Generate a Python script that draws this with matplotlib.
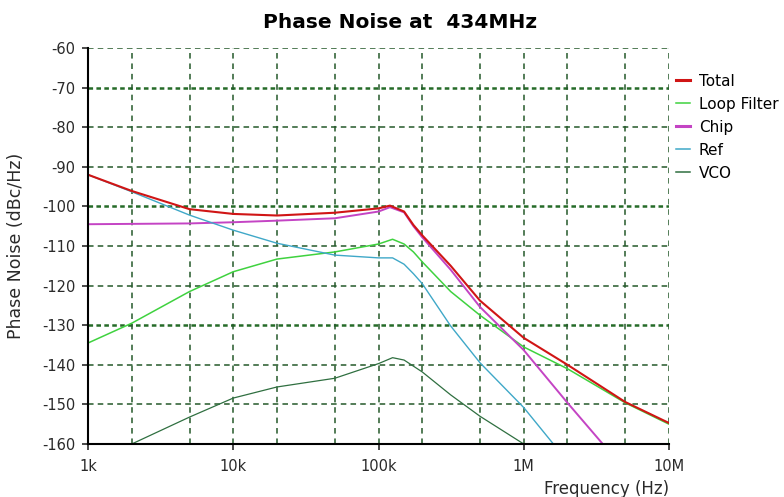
import numpy as np
import matplotlib
matplotlib.use("Agg")
import matplotlib.pyplot as plt
from matplotlib.ticker import LogLocator, FixedLocator, NullFormatter

plt.rcParams["font.family"] = "DejaVu Sans"
plt.rcParams["axes.unicode_minus"] = False
plt.rcParams["lines.scale_dashes"] = False

### data (Hz, dBc/Hz)
f_total = [1e3, 2e3, 5e3, 1e4, 2e4, 5e4, 1e5, 1.2e5, 1.5e5, 1.74e5, 2e5, 3.14e5, 5e5, 1e6, 2e6, 5e6, 1e7]
pn_total = [-92, -96.1, -100.7, -101.9, -102.3, -101.6, -100.5, -99.8, -101.3, -104.7, -107.3, -115, -123.8, -133.2, -140, -149.4, -154.7]

f_loop = [1e3, 2e3, 5e3, 1e4, 2e4, 5e4, 1e5, 1.25e5, 1.5e5, 1.74e5, 2e5, 3.14e5, 5e5, 1e6, 2e6, 5e6, 1e7]
pn_loop = [-134.5, -129.5, -121.5, -116.5, -113.3, -111.5, -109.5, -108.3, -109.5, -111.5, -114, -121.5, -127.5, -135.5, -141, -149.6, -155]

f_chip = [1e3, 5e3, 1e4, 2e4, 5e4, 1e5, 1.2e5, 1.5e5, 1.74e5, 2e5, 3.14e5, 5e5, 1e6, 2e6, 3.5e6]
pn_chip = [-104.5, -104.3, -104, -103.6, -103, -101.3, -100.2, -101.5, -105, -107.8, -116, -125.4, -136.3, -149.6, -160]

f_ref = [1e3, 2e3, 5e3, 1e4, 2e4, 5e4, 1e5, 1.25e5, 1.5e5, 1.74e5, 2e5, 3.14e5, 5e5, 1e6, 1.6e6]
pn_ref = [-92, -96.3, -102.2, -106, -109.3, -112.3, -113, -113, -114.6, -117, -119.5, -130.2, -139.5, -150.8, -160]

f_vco = [2e3, 5e3, 1e4, 2e4, 5e4, 1e5, 1.25e5, 1.5e5, 2e5, 3.14e5, 5e5, 1e6]
pn_vco = [-160, -153.2, -148.4, -145.6, -143.4, -139.7, -138.2, -138.8, -141.8, -147.6, -153, -160]

yticks = [-60, -70, -80, -90, -100, -110, -120, -130, -140, -150, -160]
heavy_rows = [-70, -100, -130]
xticks = [1e3, 1e4, 1e5, 1e6, 1e7]
xticklabels = ["1k", "10k", "100k", "1M", "10M"]

grid_col = "#24592a"

fig = plt.figure(figsize=(7.84, 4.97), dpi=100)
ax = fig.add_axes([88/784, 1-444/497, (669-88)/784, (444-48)/497])

ax.semilogx(f_total, pn_total, color="#d01515", lw=1.5, label="Total", zorder=5)
ax.semilogx(f_loop, pn_loop, color="#3fd23f", lw=1.1, label="Loop Filter", zorder=4)
ax.semilogx(f_chip, pn_chip, color="#c444c4", lw=1.4, label="Chip", zorder=4)
ax.semilogx(f_ref, pn_ref, color="#3fa8c8", lw=1.0, label="Ref", zorder=4)
ax.semilogx(f_vco, pn_vco, color="#2f6f40", lw=0.9, label="VCO", zorder=4)

ax.set_xlim(1e3, 1e7)
ax.set_ylim(-160, -60)
ax.set_yticks(yticks)
ax.xaxis.set_major_locator(FixedLocator(xticks))
ax.set_xticklabels(xticklabels)
ax.xaxis.set_minor_locator(LogLocator(base=10, subs=[2, 5], numticks=20))
ax.xaxis.set_minor_formatter(NullFormatter())

# grid
ax.grid(True, which="both", axis="x", color=grid_col, lw=1.1, dashes=(4, 3.5), zorder=1)
for yv in yticks:
    if yv in heavy_rows:
        ax.axhline(yv, color="#256b28", lw=1.8, dashes=(3.3, 2.4), zorder=1)
    else:
        ax.axhline(yv, color=grid_col, lw=1.1, dashes=(4, 3), zorder=1)

for s in ["top", "right"]:
    ax.spines[s].set_visible(False)
for s in ["left", "bottom"]:
    ax.spines[s].set_linewidth(1.5)
    ax.spines[s].set_zorder(6)

ax.tick_params(axis="both", which="major", length=4, width=1.2, labelsize=10.5, colors="#2a2a2a")
ax.tick_params(axis="x", which="major", pad=7)
ax.tick_params(axis="y", which="major", pad=5)
ax.tick_params(axis="x", which="minor", length=0)

ax.set_ylabel("Phase Noise (dBc/Hz)", fontsize=12.5, color="#2a2a2a", labelpad=12)
ax.set_xlabel("Frequency (Hz)", fontsize=12, color="#2a2a2a", loc="right", labelpad=4)
fig.text(400/784, 1-22/497, "Phase Noise at  434MHz", ha="center", va="center",
         fontsize=14.5, fontweight="bold")

leg = ax.legend(loc="upper left", bbox_to_anchor=(1.012, 0.935), frameon=False,
                fontsize=11, handlelength=0.9, handletextpad=0.6, labelspacing=0.52,
                borderpad=0, borderaxespad=0)
for h, w in zip(leg.get_lines(), [2.2, 1.1, 2.2, 1.1, 1.1]):
    h.set_linewidth(w)

plt.savefig("out.png", dpi=100)
